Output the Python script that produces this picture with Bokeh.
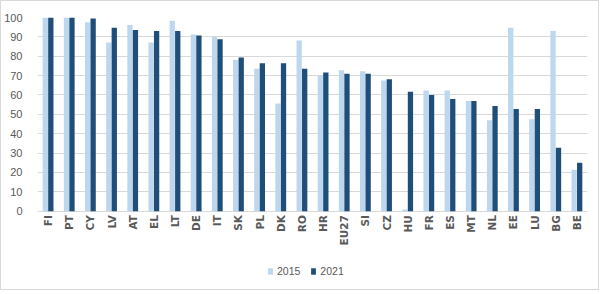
import math
from bokeh.plotting import figure
from bokeh.models import ColumnDataSource, FactorRange, Legend, LegendItem
from bokeh.core.properties import value
from bokeh.transform import dodge
from bokeh.embed import file_html
from bokeh.resources import INLINE

countries = ["FI", "PT", "CY", "LV", "AT", "EL", "LT", "DE", "IT", "SK", "PL", "DK", "RO",
             "HR", "EU27", "SI", "CZ", "HU", "FR", "ES", "MT", "NL", "EE", "LU", "BG", "BE"]
v2015 = [100, 100, 97.6, 87.1, 96.1, 87.1, 98.3, 91.2, 90.0, 78.1, 73.5, 55.6, 88.1,
         70.0, 72.8, 72.3, 67.5, 0.8, 62.3, 62.3, 56.9, 46.9, 94.7, 47.4, 93.0, 21.4]
v2021 = [100, 100, 99.5, 94.7, 93.6, 93.0, 93.0, 90.7, 88.8, 79.3, 76.4, 76.4, 73.5,
         71.6, 71.0, 71.0, 68.1, 61.6, 60.0, 57.9, 56.9, 54.3, 52.8, 52.8, 32.8, 25.0]
series = ["2015", "2021"]
yticks = list(range(0, 101, 10))

src = ColumnDataSource(dict(c=countries, a=v2015, b=v2021, z=[0] * len(countries)))

p = figure(x_range=FactorRange(*countries), y_range=(-41.5, 100),
           width=599, height=290, output_backend="svg", toolbar_location=None,
           min_border_left=36, min_border_right=13, min_border_top=16, min_border_bottom=0,
           styles={"border": "1px solid #d9d9d9"})
p.outline_line_color = None
p.background_fill_color = "white"
p.border_fill_color = "white"

r1 = p.vbar(x=dodge("c", -0.13, range=p.x_range), top="a", width=0.25, source=src,
            fill_color="#BDD7EE", line_color=None)
r2 = p.vbar(x=dodge("c", 0.13, range=p.x_range), top="b", width=0.25, source=src,
            fill_color="#1F4E79", line_color=None)

# category labels under the baseline
p.text(x="c", y="z", text="c", source=src, angle=math.pi / 2, y_offset=4,
       text_align="right", text_baseline="middle",
       text_font=value("DejaVu Sans"), text_font_style="bold",
       text_font_size="10.5px", text_color="#595959")

p.xaxis.visible = False
p.xgrid.grid_line_color = None
p.ygrid.grid_line_color = "#D9D9D9"
p.ygrid.ticker = yticks

p.yaxis.ticker = yticks
p.yaxis.axis_line_color = None
p.yaxis.major_tick_line_color = None
p.yaxis.minor_tick_line_color = None
p.yaxis.major_label_text_font = "Liberation Sans"
p.yaxis.major_label_text_font_size = "11px"
p.yaxis.major_label_text_color = "#595959"
p.yaxis.major_label_standoff = 9

legend = Legend(items=[LegendItem(label=series[0], renderers=[r1]),
                       LegendItem(label=series[1], renderers=[r2])],
                orientation="horizontal", location=(230, 14),
                padding=0, margin=0, spacing=10, label_standoff=4,
                glyph_width=6, glyph_height=8, label_height=10,
                label_text_font="Liberation Sans", label_text_font_size="10.5px",
                label_text_color="#595959", border_line_color=None,
                background_fill_alpha=0)
p.add_layout(legend, "center")

open("out.html", "w").write(file_html(p, INLINE))
